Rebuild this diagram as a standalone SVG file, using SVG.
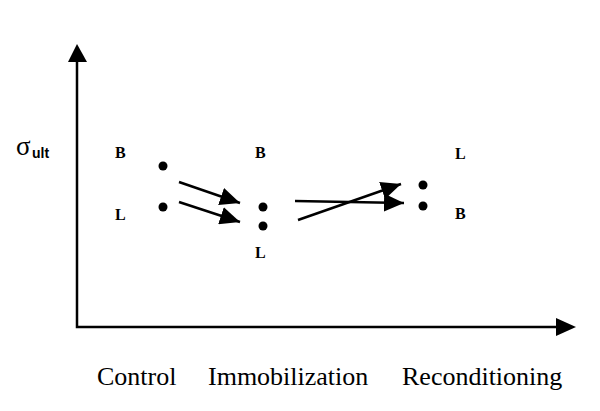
<svg xmlns="http://www.w3.org/2000/svg" width="600" height="411" viewBox="0 0 600 411">
<defs>
<style>
.ax{stroke:#000;stroke-width:2.5;fill:none}
.ar{stroke:#000;stroke-width:2.5;fill:none;marker-end:url(#ah)}
.dot{fill:#000}
.lbl{font-weight:bold;font-size:16px;fill:#000}
.cat{font-size:26px;fill:#000}
</style>
<marker id="ah" viewBox="0 0 20 18" refX="20" refY="9" markerWidth="20" markerHeight="18" markerUnits="userSpaceOnUse" orient="auto">
<path d="M0,0 L20,9 L0,18 Z" fill="#000"/>
</marker>
</defs>
<rect width="600" height="411" fill="#fff"/>
<g id="axes">
<path class="ax" d="M77,62 V327 H556"/>
<path d="M77,44 L68,62 L87,62 Z" fill="#000"/>
<path d="M576,327 L556,318 L556,336 Z" fill="#000"/>
</g>
<g id="ylabel">
<text x="16" y="155" font-family="Liberation Serif, Times New Roman, serif" font-size="27">σ</text>
<text x="32" y="158" font-family="Liberation Sans, Arial, sans-serif" font-weight="bold" font-size="14">ult</text>
</g>
<g id="control" font-family="Liberation Serif, Times New Roman, serif">
<text class="lbl" x="115" y="158">B</text>
<text class="lbl" x="115" y="220">L</text>
<circle class="dot" cx="163" cy="166" r="4.5"/>
<circle class="dot" cx="163" cy="207" r="4.5"/>
</g>
<g id="immobilization" font-family="Liberation Serif, Times New Roman, serif">
<text class="lbl" x="255" y="158">B</text>
<text class="lbl" x="255" y="258">L</text>
<circle class="dot" cx="263" cy="207" r="4.5"/>
<circle class="dot" cx="263" cy="226" r="4.5"/>
</g>
<g id="reconditioning" font-family="Liberation Serif, Times New Roman, serif">
<text class="lbl" x="455" y="159">L</text>
<text class="lbl" x="455" y="219">B</text>
<circle class="dot" cx="423" cy="185" r="4.5"/>
<circle class="dot" cx="423" cy="206" r="4.5"/>
</g>
<g id="connectors">
<line class="ar" x1="179" y1="182" x2="240" y2="203"/>
<line class="ar" x1="179" y1="202" x2="240" y2="222"/>
<line class="ar" x1="295" y1="201" x2="404" y2="203"/>
<line class="ar" x1="298" y1="220" x2="401" y2="184"/>
</g>
<g id="categories" font-family="Liberation Serif, Times New Roman, serif">
<text class="cat" x="97" y="385">Control</text>
<text class="cat" x="208" y="385">Immobilization</text>
<text class="cat" x="402" y="385">Reconditioning</text>
</g>
</svg>
